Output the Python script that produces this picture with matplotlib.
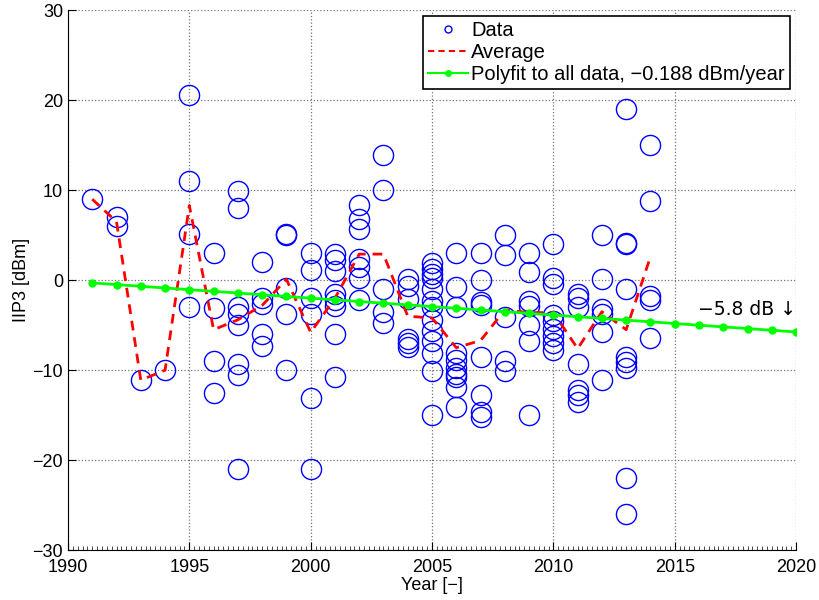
import numpy as np
import matplotlib
matplotlib.use("Agg")
import matplotlib.pyplot as plt
from matplotlib.lines import Line2D
from matplotlib.ticker import MultipleLocator

# IIP3 values per publication year
years = list(range(1991, 2015))
iip3 = [
    [9.0],                                                   # 1991
    [7.0, 6.0],                                              # 1992
    [-11.1],                                                 # 1993
    [-10.0],                                                 # 1994
    [20.6, 11.0, 5.1, -3.0],                                 # 1995
    [3.0, -3.1, -9.0, -12.5],                                # 1996
    [9.9, 8.0, -3.0, -3.7, -5.0, -9.3, -10.5, -21.0],        # 1997
    [2.0, -2.0, -2.6, -6.0, -7.3],                           # 1998
    [5.0, 5.1, -0.9, -3.8, -10.0],                           # 1999
    [3.0, 1.1, -2.0, -3.7, -13.1, -21.0],                    # 2000
    [2.9, 2.3, 1.0, -1.5, -2.2, -2.9, -6.0, -10.7],          # 2001
    [8.4, 6.8, 5.7, 2.4, 1.5, 0.3, -2.2],                    # 2002
    [13.9, 10.0, -1.0, -3.5, -4.7],                          # 2003
    [0.1, -0.6, -2.1, -6.5, -7.0, -7.4],                     # 2004
    [1.9, 1.3, 0.7, 0.2, -1.0, -2.3, -3.0, -4.4, -5.6, -6.7, -8.1, -10.1, -15.0],  # 2005
    [3.0, -0.7, -3.0, -8.1, -8.9, -9.8, -10.4, -10.7, -11.9, -14.1],               # 2006
    [3.0, 0.0, -2.4, -2.7, -8.5, -12.8, -14.6, -15.2],       # 2007
    [5.0, 2.8, -4.1, -9.0, -10.1],                           # 2008
    [3.0, 0.9, -2.3, -2.9, -5.0, -6.7, -15.0],               # 2009
    [4.0, 0.2, -0.4, -3.9, -4.5, -5.4, -6.2, -7.0, -7.8],    # 2010
    [-1.5, -2.0, -3.0, -9.3, -12.2, -12.8, -13.5],           # 2011
    [5.0, 0.1, -3.2, -3.8, -5.7, -11.1],                     # 2012
    [19.0, 4.1, 4.0, -1.0, -8.5, -9.1, -9.8, -22.0, -26.0],  # 2013
    [15.0, 8.8, -1.7, -2.2, -6.4],                           # 2014
]
# yearly average as drawn (red dashed)
avg = [9.0, 6.5, -11.1, -10.0, 8.3, -5.5, -4.4, -2.8, 0.1, -5.8, -2.0, 2.9,
       2.9, -4.0, -4.2, -7.5, -6.7, -3.3, -3.6, -3.6, -7.6, -3.5, -5.5, 2.6]

# linear fit: value at 1991 and slope in dBm/year
fit_years = list(range(1991, 2021))
fit_start = -0.3
fit_slope = -0.188

plt.rcParams['font.family'] = ['Liberation Sans', 'DejaVu Sans']
plt.rcParams['font.size'] = 12
plt.rcParams['axes.unicode_minus'] = True

fig = plt.figure(figsize=(8.19, 6.0), dpi=100)
ax = fig.add_axes([0.083, 0.083, 0.889, 0.9])

xs = np.concatenate([[y] * len(v) for y, v in zip(years, iip3)])
ys = np.concatenate(iip3)
ax.plot(xs, ys, 'o', color='blue', mfc='none', ms=14.5, mew=1.0, zorder=2)
ax.plot(years, avg, '--', color='red', lw=2, dashes=(3.5, 2.5), zorder=3)
fx = np.array(fit_years)
fy = fit_start + fit_slope * (fx - fx[0])
ax.plot(fx, fy, '-', color=(0, 1, 0), lw=2, marker='o', ms=5, zorder=4)

# annotation: arrow glyph taken from DejaVu Sans (taller than Liberation's)
ax.text(2020, -3.9, '\u22125.8 dB \u2193', ha='right', va='baseline', fontsize=13.5,
        family=['DejaVu Sans'])

ax.set_xlim(1990, 2020)
ax.set_ylim(-30, 30)
ax.set_xticks(range(1990, 2021, 5))
ax.set_yticks(range(-30, 31, 10))
ax.xaxis.set_minor_locator(MultipleLocator(0.2))
ax.tick_params(which='major', direction='in', length=6, width=0.8, labelsize=13)
ax.tick_params(which='minor', direction='in', length=3, width=0.5)
ax.tick_params(axis='x', which='major', pad=6)
ax.tick_params(axis='y', which='minor', left=False)
ax.grid(True, which='major', linestyle=':', color='0.45', lw=0.9)
for s in ['top', 'right']:
    ax.spines[s].set_visible(False)
ax.set_xlabel('Year [\u2212]', fontsize=13, labelpad=1)
ax.set_ylabel('IIP3 [dBm]', fontsize=13, labelpad=2)

handles = [
    Line2D([], [], ls='none', marker='o', mfc='none', color='blue', ms=5),
    Line2D([], [], ls='--', color='red', lw=1.5, dashes=(3, 2)),
    Line2D([], [], ls='-', color=(0, 1, 0), lw=1.5, marker='o', ms=4),
]
labels = ['Data', 'Average', 'Polyfit to all data, \u22120.188 dBm/year']
leg = ax.legend(handles, labels, loc='upper right', fontsize=14.5, frameon=True,
                fancybox=False, borderaxespad=0.3, handlelength=2.0,
                handletextpad=0.15, labelspacing=0.15, borderpad=0.25)
leg.get_frame().set_edgecolor('black')
leg.get_frame().set_linewidth(1.2)
leg.get_frame().set_alpha(1)

fig.savefig('out.png', dpi=100)
